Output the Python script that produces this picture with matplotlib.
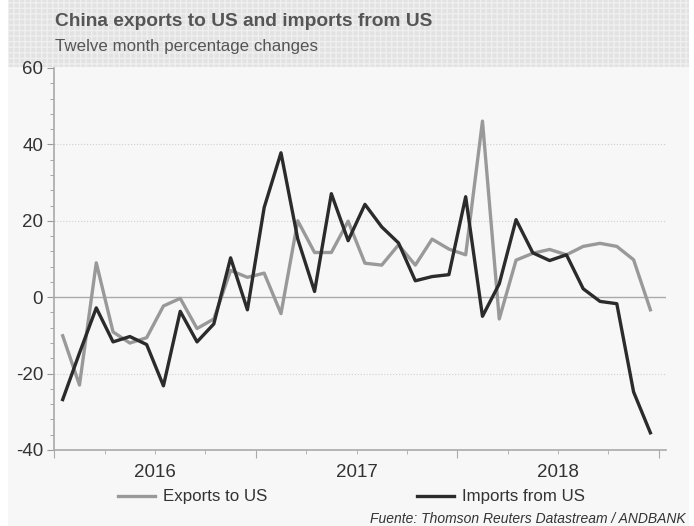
import matplotlib.pyplot as plt
import numpy as np
from matplotlib.patches import Rectangle
from matplotlib.ticker import MultipleLocator, FixedLocator

plt.rcParams['font.family'] = ['Liberation Sans', 'DejaVu Sans']
plt.rcParams['axes.unicode_minus'] = False

# Monthly data, Jan 2016 .. Dec 2018 (12-month % changes)
exports_us = [-10.1, -23.0, 9.0, -9.1, -12.0, -10.6, -2.3, -0.3, -8.2, -5.7, 7.0, 5.2,
              6.3, -4.3, 20.0, 11.7, 11.7, 19.9, 8.9, 8.4, 13.7, 8.4, 15.2, 12.6,
              11.1, 46.1, -5.7, 9.7, 11.5, 12.5, 11.1, 13.3, 14.1, 13.3, 9.8, -3.3]
imports_us = [-26.8, -14.6, -2.8, -11.7, -10.3, -12.4, -23.2, -3.7, -11.7, -7.0, 10.3, -3.3,
              23.5, 37.8, 15.2, 1.5, 27.1, 14.8, 24.3, 18.4, 14.2, 4.3, 5.4, 5.9,
              26.3, -5.0, 3.5, 20.3, 11.6, 9.6, 11.1, 2.2, -1.1, -1.7, -24.8, -35.5]
years = ['2016', '2017', '2018']

months = np.arange(len(exports_us))

fig = plt.figure(figsize=(6.94, 5.26), dpi=100)
fig.patch.set_facecolor('white')

# panel background and textured header band
fig.patches.append(Rectangle((8 / 694, 0), 681 / 694, 1 - 67 / 526, transform=fig.transFigure,
                             facecolor='#f7f7f7', edgecolor='none', zorder=0))
fig.patches.append(Rectangle((8 / 694, 1 - 67 / 526), 681 / 694, 67 / 526, transform=fig.transFigure,
                             facecolor='#e2e2e2', edgecolor='#efefef', hatch='+++', linewidth=0, zorder=0))

ax = fig.add_axes([54.3 / 694, 1 - 450 / 526, (666 - 54.3) / 694, (450 - 68) / 526])
ax.set_zorder(2)
ax.set_facecolor('none')

ax.plot(months, exports_us, color='#999999', lw=2.4, label='Exports to US', zorder=3)
ax.plot(months, imports_us, color='#2b2b2b', lw=2.4, label='Imports from US', zorder=4)

ax.set_xlim(-0.5, 35.93)
ax.set_ylim(-40, 60)

# y axis
ax.yaxis.set_major_locator(MultipleLocator(20))
ax.yaxis.set_minor_locator(MultipleLocator(4))
for v in (-20, 20, 40):
    ax.axhline(v, color='#d0d0d0', lw=0.8, ls=':', zorder=0)
ax.axhline(0, color='#aaaaaa', lw=1.0, zorder=1)

# x axis: quarter ticks, year labels centred
ax.xaxis.set_major_locator(FixedLocator([-0.5, 11.5, 23.5, 35.5]))
ax.xaxis.set_minor_locator(FixedLocator([2.5, 5.5, 8.5, 14.5, 17.5, 20.5, 26.5, 29.5, 32.5]))
ax.set_xticklabels([])
for k, yr in enumerate(years):
    ax.text(5.5 + 12 * k, -0.037, yr, transform=ax.get_xaxis_transform(),
            ha='center', va='top', fontsize=13.5, color='#333333')

for s in ('top', 'right'):
    ax.spines[s].set_visible(False)
for s in ('left', 'bottom'):
    ax.spines[s].set_color('#aaaaaa')
    ax.spines[s].set_linewidth(1.2)
ax.tick_params(axis='y', which='major', length=5, color='#999999', labelsize=13.5,
               labelcolor='#333333', pad=3)
ax.tick_params(axis='y', which='minor', length=3, color='#999999')
ax.tick_params(axis='x', which='major', length=6, color='#aaaaaa')
ax.tick_params(axis='x', which='minor', length=3, color='#aaaaaa')

# titles
fig.text(55 / 694, 1 - 21 / 526, 'China exports to US and imports from US', fontsize=13.8,
         fontweight='bold', color='#555555', va='center', ha='left')
fig.text(55 / 694, 1 - 47 / 526, 'Twelve month percentage changes', fontsize=12.2,
         color='#555555', va='center', ha='left')

fig.legend(loc='center', bbox_to_anchor=(351.5 / 694, 1 - 497 / 526), ncol=2, frameon=False,
           fontsize=12.2, handlelength=2.2, columnspacing=8.8, handletextpad=0.5,
           labelcolor='#333333')

fig.text(686 / 694, 1 - 519 / 526, 'Fuente: Thomson Reuters Datastream / ANDBANK', fontsize=10,
         style='italic', color='#333333', ha='right', va='center')

fig.savefig('out.png', dpi=100)
